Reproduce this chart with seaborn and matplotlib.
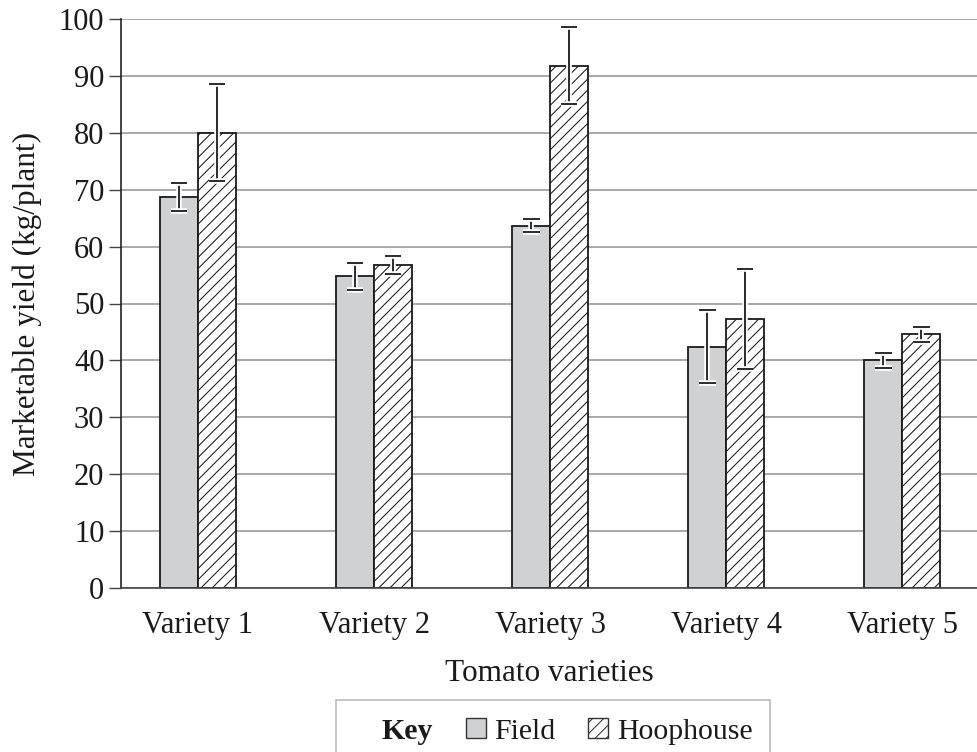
import numpy as np
import pandas as pd
import matplotlib
matplotlib.use("Agg")
import matplotlib.pyplot as plt
import matplotlib.patheffects as pe
from matplotlib.patches import Patch
import seaborn as sns

# Chart data
varieties = ["Variety 1", "Variety 2", "Variety 3", "Variety 4", "Variety 5"]
field = [68.7, 54.8, 63.7, 42.4, 40.0]
field_err = [2.5, 2.4, 1.2, 6.4, 1.3]
hoophouse = [80.0, 56.7, 91.8, 47.3, 44.6]
hoophouse_err = [8.5, 1.6, 6.8, 8.8, 1.35]

df = pd.DataFrame({
    "Variety": varieties * 2,
    "Yield": field + hoophouse,
    "Site": ["Field"] * 5 + ["Hoophouse"] * 5,
})

sns.set_style("white")
plt.rcParams["font.family"] = ["Liberation Serif", "DejaVu Serif"]
plt.rcParams["hatch.linewidth"] = 0.75

fig = plt.figure(figsize=(9.78, 7.52), dpi=100)
ax = fig.add_axes([121 / 978, 1 - 588 / 752, (978 - 121) / 978, (588 - 19) / 752])

field_col = "#d0d1d3"
sns.barplot(data=df, x="Variety", y="Yield", hue="Site", errorbar=None,
            palette={"Field": field_col, "Hoophouse": "white"},
            width=0.43, gap=0, edgecolor="#1a1a1a", linewidth=1.3,
            saturation=1, legend=False, ax=ax)

# hatch the hoophouse bars and add error bars
errs = {"Field": field_err, "Hoophouse": hoophouse_err}
for cont, site in zip(ax.containers, ["Field", "Hoophouse"]):
    xs, ys = [], []
    for bar in cont:
        if site == "Hoophouse":
            bar.set_hatch("///")
        xs.append(bar.get_x() + bar.get_width() / 2)
        ys.append(bar.get_height())
    eb = ax.errorbar(xs, ys, yerr=errs[site], fmt="none", ecolor="#1a1a1a",
                     elinewidth=1.3, capsize=6, capthick=1.3, zorder=5)
    halo = [pe.Stroke(linewidth=4, foreground="white"), pe.Normal()]
    for cap in eb[1]:
        cap.set_path_effects(halo)
    for lc in eb[2]:
        lc.set_path_effects(halo)

ax.set_ylim(0, 100)
ax.set_xlim(-0.437, 4.43)
ax.set_yticks(np.arange(0, 101, 10))
ax.yaxis.grid(True, color="#999999", linewidth=1.2)
ax.set_axisbelow(True)
for s in ["top", "right"]:
    ax.spines[s].set_visible(False)
ax.spines["left"].set_color("#222222")
ax.spines["bottom"].set_color("#444444")
ax.spines["left"].set_linewidth(1.2)
ax.spines["bottom"].set_linewidth(1.2)
ax.tick_params(axis="y", left=True, length=9, width=1.0, color="#444444",
               labelsize=22, pad=3, labelcolor="#1a1a1a")
ax.tick_params(axis="x", bottom=False, labelsize=22, pad=13, labelcolor="#1a1a1a")
ax.set_xlabel("Tomato varieties", fontsize=22.5, color="#1a1a1a", labelpad=14)
ax.set_ylabel("Marketable yield (kg/plant)", fontsize=22.5, color="#1a1a1a", labelpad=12)

# legend with "Key" label
handles = [Patch(facecolor="none", edgecolor="none"),
           Patch(facecolor=field_col, edgecolor="#333333", linewidth=1.0),
           Patch(facecolor="white", edgecolor="#333333", linewidth=1.0, hatch="///")]
leg = fig.legend(handles, ["Key", "Field", "Hoophouse"], ncol=3, loc="upper center",
                 bbox_to_anchor=(553 / 978, 1 - 700 / 752), fontsize=21.5,
                 handlelength=0.65, handleheight=0.65, handletextpad=0.3,
                 columnspacing=1.1, fancybox=False, edgecolor="#aaaaaa",
                 borderpad=0.6, borderaxespad=0)
leg.get_frame().set_linewidth(1.2)
leg.get_texts()[0].set_fontweight("bold")
for t in leg.get_texts():
    t.set_color("#1a1a1a")

fig.savefig("out.png", dpi=100)
